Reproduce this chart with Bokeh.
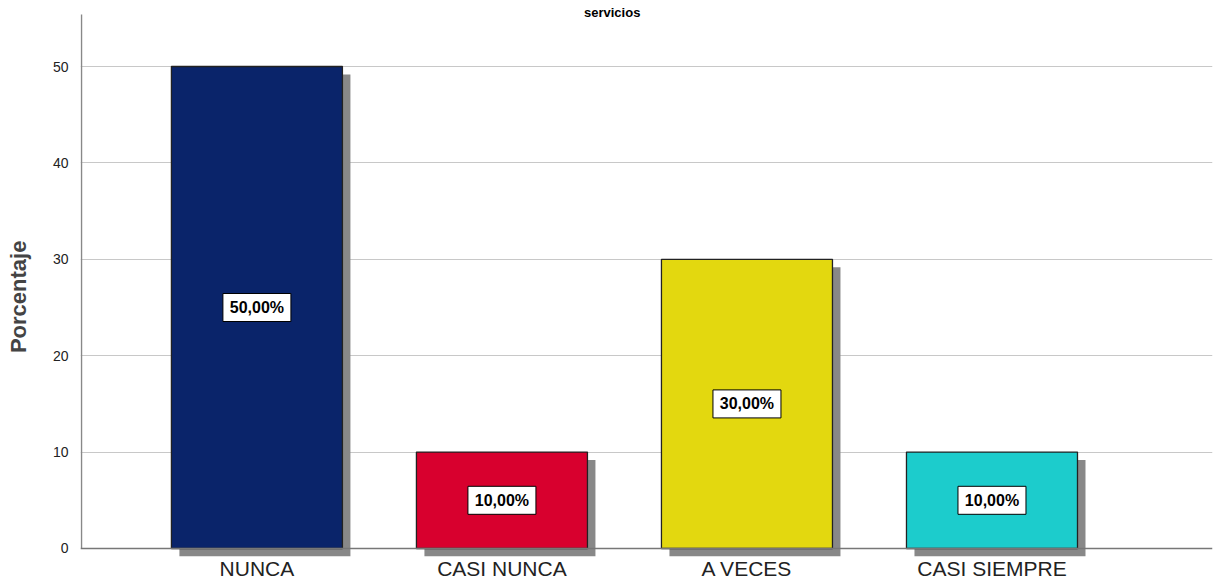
from bokeh.plotting import figure
from bokeh.models import ColumnDataSource, Label, Span, FixedTicker, Range1d
from bokeh.core.properties import value
from bokeh.embed import file_html
from bokeh.resources import INLINE

categories = ["NUNCA", "CASI NUNCA", "A VECES", "CASI SIEMPRE"]
values = [50, 10, 30, 10]
labels = ["50,00%", "10,00%", "30,00%", "10,00%"]
colors = ["#0a246a", "#d8002e", "#e3d80f", "#1ccccc"]
y_ticks = [0, 10, 20, 30, 40, 50]
title_text = "servicios"
y_title = "Porcentaje"

px_x = 245.0
px_y = 9.66
xs = list(range(len(categories)))
half = 171.0 / px_x / 2
dx = 8 / px_x
dy = 8 / px_y
x0, x1 = -0.72, 3.9
y_axis_top = 55.4
y0, y1 = -0.83, 55.4 + 14 / px_y

src = ColumnDataSource(dict(
    x=xs, top=values, color=colors, lab=labels,
    left=[x - half for x in xs], right=[x + half for x in xs],
    sleft=[x - half + dx for x in xs], sright=[x + half + dx for x in xs],
    stop=[v - dy for v in values], sbot=[-dy] * len(values),
    mid=[v / 2 for v in values],
))

p = figure(width=1214, height=582, output_backend="svg", toolbar_location=None,
           x_range=Range1d(x0, x1), y_range=Range1d(y0, y1),
           min_border_left=80, min_border_right=2, min_border_top=0, min_border_bottom=25)
p.outline_line_color = None
p.background_fill_color = "white"

p.ygrid.grid_line_color = "#c8c8c8"
p.ygrid.grid_line_width = 1
p.ygrid.ticker = FixedTicker(ticks=y_ticks[1:])
p.xgrid.visible = False

p.quad(left="sleft", right="sright", top="stop", bottom="sbot", source=src,
       fill_color="#888888", line_color=None)
p.quad(left="left", right="right", top="top", bottom=0, source=src,
       fill_color="color", line_color="#222222", line_width=1.3)

p.add_layout(Span(location=0, dimension="width", line_color="#777777", line_width=1.5))
p.segment(x0=[x0 + 0.004], y0=[0], x1=[x0 + 0.004], y1=[y_axis_top],
          line_color="#888888", line_width=1.5)

# value label boxes
p.rect(x="x", y="mid", width=68, height=28, width_units="screen", height_units="screen",
       source=src, fill_color="white", line_color="black", line_width=1)
p.text(x="x", y="mid", text="lab", source=src, text_align="center", text_baseline="middle",
       text_font=value("Liberation Sans"), text_font_style="bold", text_font_size="16px",
       text_color="black")

p.yaxis.ticker = FixedTicker(ticks=y_ticks)
p.yaxis.axis_label = y_title + "\u00a0" * 6
p.yaxis.axis_label_text_font = "Liberation Sans"
p.yaxis.axis_label_text_font_style = "bold"
p.yaxis.axis_label_text_font_size = "22px"
p.yaxis.axis_label_standoff = 19
p.yaxis.major_label_text_font = "Liberation Sans"
p.yaxis.major_label_text_font_size = "14px"
p.yaxis.major_label_text_color = "#222222"
p.yaxis.major_tick_line_color = None
p.yaxis.minor_tick_line_color = None
p.yaxis.major_tick_out = 0
p.yaxis.major_tick_in = 0
p.yaxis.axis_line_color = None
p.yaxis.major_label_standoff = 12

p.xaxis.ticker = FixedTicker(ticks=xs)
p.xaxis.major_label_overrides = {i: c for i, c in enumerate(categories)}
p.xaxis.major_label_text_font = "Liberation Sans"
p.xaxis.major_label_text_font_size = "21px"
p.xaxis.major_label_text_color = "#222222"
p.xaxis.major_tick_line_color = None
p.xaxis.minor_tick_line_color = None
p.xaxis.major_tick_out = 0
p.xaxis.major_tick_in = 0
p.xaxis.axis_line_color = None
p.xaxis.major_label_standoff = 0

p.add_layout(Label(x=1.45, y=y1 - 12 / px_y, text=title_text, text_align="center",
                   text_baseline="alphabetic", text_font="Liberation Sans",
                   text_font_style="bold", text_font_size="13px", text_color="black"))

open("out.html", "w").write(file_html(p, INLINE))
